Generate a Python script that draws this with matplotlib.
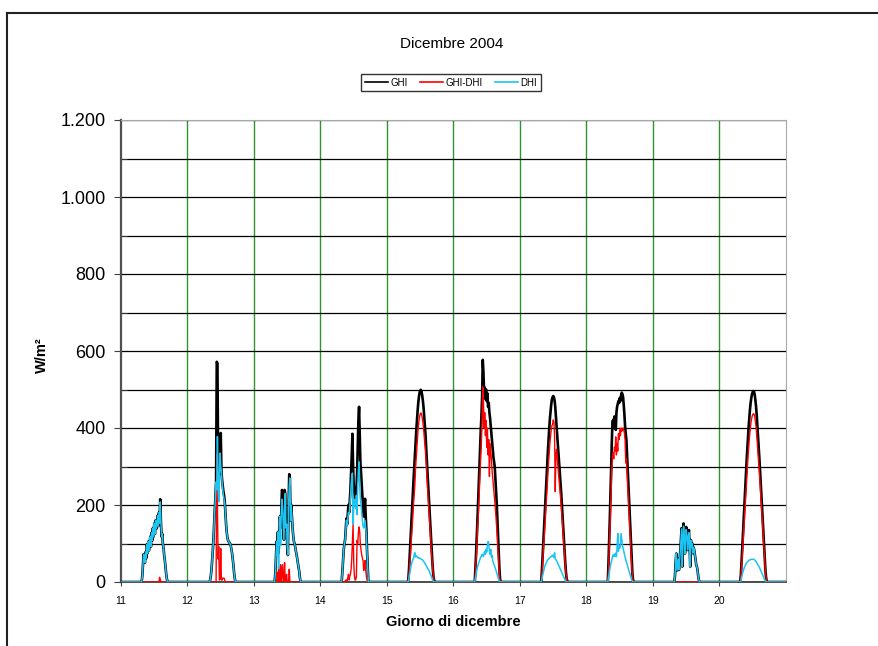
import numpy as np
import matplotlib.pyplot as plt
from matplotlib.lines import Line2D
from matplotlib.ticker import FuncFormatter, MultipleLocator

plt.rcParams['font.family'] = ['Liberation Sans', 'DejaVu Sans']

# sampling grid inside each day (fraction of the day)
day_offsets = [0.30, 0.31, 0.32, 0.33, 0.34, 0.35, 0.36, 0.37, 0.38, 0.39,
               0.40, 0.41, 0.42, 0.43, 0.44, 0.45, 0.46, 0.47, 0.48, 0.49,
               0.50, 0.51, 0.52, 0.53, 0.54, 0.55, 0.56, 0.57, 0.58, 0.59,
               0.60, 0.61, 0.62, 0.63, 0.64, 0.65, 0.66, 0.67, 0.68, 0.69,
               0.70, 0.71, 0.72]

days = [11, 12, 13, 14, 15, 16, 17, 18, 19, 20]
x_ticks = [11, 12, 13, 14, 15, 16, 17, 18, 19, 20]

ghi_11 = [0, 0, 15, 45, 72, 58, 50, 78, 62, 98, 75, 105, 82, 95, 118, 92, 128, 108, 140, 118, 152, 125, 160, 138, 150,
          172, 145, 180, 165, 215, 158, 118, 125, 98, 88, 68, 55, 38, 20, 8, 0, 0, 0]
dhi_11 = [0, 0, 15, 45, 72, 58, 50, 78, 62, 98, 75, 105, 82, 95, 118, 92, 128, 108, 140, 118, 152, 125, 160, 138, 150,
          172, 145, 180, 153, 208, 158, 118, 125, 98, 88, 68, 55, 38, 20, 8, 0, 0, 0]
dif_11 = [0, 0, 0, 0, 0, 0, 0, 0, 0, 0, 0, 0, 0, 0, 0, 0, 0, 0, 0, 0, 0, 0, 0, 0, 0,
          0, 0, 0, 12, 7, 0, 0, 0, 0, 0, 0, 0, 0, 0, 0, 0, 0, 0]

ghi_12 = [0, 0, 0, 0, 5, 15, 30, 55, 80, 110, 150, 187, 220, 260, 572, 568, 330, 300, 280, 345, 387, 290, 265, 250, 235,
          225, 210, 180, 150, 130, 115, 108, 105, 102, 100, 95, 85, 75, 60, 45, 25, 10, 0]
dhi_12 = [0, 0, 0, 0, 5, 15, 30, 55, 80, 110, 150, 187, 220, 260, 240, 378, 270, 208, 275, 335, 300, 285, 260, 240, 225,
          215, 205, 180, 150, 130, 115, 108, 105, 102, 100, 95, 85, 75, 60, 45, 25, 10, 0]
dif_12 = [0, 0, 0, 0, 0, 0, 0, 0, 0, 0, 0, 0, 0, 0, 332, 190, 60, 92, 5, 10, 87, 5, 5, 10, 10,
          10, 5, 0, 0, 0, 0, 0, 0, 0, 0, 0, 0, 0, 0, 0, 0, 0, 0]

ghi_13 = [0, 0, 20, 60, 105, 95, 130, 75, 120, 170, 140, 180, 239, 235, 150, 110, 239, 230, 140, 170, 90, 70, 200, 280, 270,
          160, 200, 170, 140, 120, 105, 100, 90, 80, 72, 60, 48, 38, 28, 12, 0, 0, 0]
dhi_13 = [0, 0, 20, 60, 105, 70, 130, 35, 120, 170, 95, 180, 215, 190, 150, 110, 189, 230, 140, 150, 90, 70, 200, 247, 270,
          160, 200, 170, 140, 120, 105, 100, 90, 80, 72, 60, 48, 38, 28, 12, 0, 0, 0]
dif_13 = [0, 0, 0, 0, 0, 25, 0, 40, 0, 0, 45, 0, 24, 45, 0, 0, 50, 0, 0, 20, 0, 0, 0, 33, 0,
          0, 0, 0, 0, 0, 0, 0, 0, 0, 0, 0, 0, 0, 0, 0, 0, 0, 0]

ghi_14 = [0, 0, 5, 30, 60, 85, 100, 110, 140, 165, 150, 175, 200, 180, 210, 240, 283, 330, 385, 300, 250, 231, 210, 196, 240,
          283, 350, 420, 455, 380, 310, 283, 250, 222, 200, 170, 190, 216, 170, 135, 80, 40, 0]
dhi_14 = [0, 0, 5, 30, 60, 85, 100, 108, 135, 160, 148, 165, 180, 175, 195, 220, 250, 270, 283, 150, 200, 215, 205, 190, 225,
          175, 250, 290, 312, 250, 215, 200, 180, 160, 145, 140, 150, 160, 140, 120, 75, 40, 0]
dif_14 = [0, 0, 0, 0, 0, 0, 0, 2, 5, 5, 2, 10, 20, 5, 15, 20, 33, 60, 102, 150, 50, 16, 5, 6, 15,
          108, 100, 130, 143, 130, 95, 83, 70, 62, 55, 30, 40, 56, 30, 15, 5, 0, 0]

ghi_15 = [0, 0, 5, 30, 62, 97, 132, 166, 200, 234, 268, 300, 332, 362, 392, 420, 444, 465, 481, 492, 498, 499, 494, 484, 470,
          452, 430, 405, 380, 345, 310, 280, 250, 218, 185, 152, 120, 88, 58, 32, 12, 2, 0]
dhi_15 = [0, 0, 0, 10, 20, 30, 40, 48, 54, 58, 62, 72, 76, 65, 68, 66, 64, 62, 63, 62, 61, 60, 59, 58, 56,
          54, 51, 48, 45, 42, 39, 36, 33, 30, 26, 22, 18, 13, 8, 4, 0, 0, 0]
dif_15 = [0, 0, 5, 20, 42, 67, 92, 118, 146, 176, 206, 228, 256, 297, 324, 354, 380, 403, 418, 430, 437, 439, 435, 426, 414,
          398, 379, 357, 335, 303, 271, 244, 217, 188, 159, 130, 102, 75, 50, 28, 12, 2, 0]

ghi_16 = [0, 0, 0, 35, 75, 115, 160, 205, 250, 300, 350, 395, 430, 480, 577, 545, 490, 505, 475, 500, 470, 490, 455, 465, 440,
          425, 405, 385, 365, 345, 325, 312, 300, 270, 240, 205, 165, 120, 75, 35, 8, 0, 0]
dhi_16 = [0, 0, 0, 10, 20, 30, 38, 45, 50, 55, 60, 65, 68, 72, 70, 66, 75, 80, 72, 85, 78, 95, 105, 100, 80,
          72, 85, 65, 70, 55, 50, 45, 40, 35, 30, 24, 18, 12, 6, 2, 0, 0, 0]
dif_16 = [0, 0, 0, 25, 55, 90, 125, 160, 200, 240, 285, 330, 365, 420, 507, 470, 400, 440, 380, 420, 350, 400, 330, 370, 274,
          360, 340, 320, 290, 270, 250, 230, 210, 190, 165, 140, 110, 78, 45, 18, 3, 0, 0]

ghi_17 = [0, 0, 0, 30, 65, 100, 135, 170, 205, 240, 275, 310, 342, 372, 400, 425, 445, 462, 474, 480, 483, 480, 472, 455, 430,
          405, 380, 355, 330, 305, 280, 255, 230, 200, 170, 140, 110, 80, 52, 28, 10, 2, 0]
dhi_17 = [0, 0, 0, 8, 16, 24, 32, 38, 44, 48, 52, 55, 58, 60, 62, 63, 65, 66, 68, 70, 66, 64, 76, 60, 58,
          55, 52, 48, 44, 40, 36, 32, 28, 24, 20, 16, 12, 8, 4, 1, 0, 0, 0]
dif_17 = [0, 0, 0, 22, 49, 76, 103, 132, 161, 192, 223, 255, 284, 312, 338, 362, 380, 396, 406, 410, 421, 416, 380, 235, 330,
          345, 322, 300, 280, 258, 240, 220, 198, 172, 146, 120, 96, 70, 46, 25, 8, 2, 0]

ghi_18 = [0, 0, 0, 45, 100, 160, 220, 290, 360, 415, 421, 400, 430, 410, 395, 440, 455, 462, 470, 465, 478, 470, 485, 492, 488,
          480, 460, 435, 405, 385, 369, 330, 290, 250, 210, 170, 130, 90, 55, 22, 5, 0, 0]
dhi_18 = [0, 0, 0, 10, 22, 32, 42, 50, 58, 65, 70, 66, 72, 68, 75, 66, 90, 126, 80, 95, 88, 100, 126, 110, 96,
          88, 80, 72, 65, 58, 52, 46, 40, 34, 28, 22, 16, 10, 5, 2, 0, 0, 0]
dif_18 = [0, 0, 0, 30, 75, 125, 175, 230, 290, 325, 335, 320, 350, 340, 377, 330, 360, 340, 385, 370, 395, 380, 400, 392, 395,
          400, 395, 387, 370, 309, 320, 280, 245, 210, 175, 140, 105, 72, 42, 15, 3, 0, 0]

ghi_19 = [0, 0, 0, 15, 50, 74, 30, 45, 60, 31, 55, 80, 110, 140, 40, 100, 152, 120, 74, 110, 143, 120, 83, 115, 135,
          95, 40, 109, 90, 100, 75, 90, 83, 70, 55, 45, 40, 31, 15, 5, 0, 0, 0]
dhi_19 = [0, 0, 0, 15, 50, 74, 30, 45, 60, 31, 55, 80, 110, 138, 40, 100, 145, 120, 74, 110, 136, 120, 83, 115, 128,
          95, 40, 109, 90, 100, 75, 90, 83, 70, 55, 45, 40, 31, 15, 5, 0, 0, 0]
dif_19 = [0, 0, 0, 0, 0, 0, 0, 0, 0, 0, 0, 0, 0, 0, 0, 0, 0, 0, 0, 0, 0, 0, 0, 0, 0,
          0, 0, 0, 0, 0, 0, 0, 0, 0, 0, 0, 0, 0, 0, 0, 0, 0, 0]

ghi_20 = [0, 0, 15, 45, 80, 115, 150, 185, 220, 255, 290, 322, 352, 382, 408, 432, 452, 468, 480, 489, 494, 496, 494, 486, 472,
          455, 432, 405, 378, 350, 320, 290, 258, 225, 192, 158, 125, 92, 60, 32, 12, 2, 0]
dhi_20 = [0, 0, 0, 10, 18, 25, 31, 36, 40, 44, 47, 50, 52, 54, 56, 57, 58, 58, 59, 59, 59, 59, 58, 57, 55,
          53, 50, 47, 44, 41, 38, 34, 30, 26, 22, 18, 14, 10, 6, 3, 1, 0, 0]
dif_20 = [0, 0, 15, 35, 62, 90, 119, 149, 180, 211, 243, 272, 300, 328, 352, 375, 394, 410, 421, 430, 435, 437, 436, 429, 417,
          402, 382, 358, 334, 309, 282, 256, 228, 199, 170, 140, 111, 82, 54, 29, 11, 2, 0]

ghi_days = [ghi_11, ghi_12, ghi_13, ghi_14, ghi_15, ghi_16, ghi_17, ghi_18, ghi_19, ghi_20]
dhi_days = [dhi_11, dhi_12, dhi_13, dhi_14, dhi_15, dhi_16, dhi_17, dhi_18, dhi_19, dhi_20]
dif_days = [dif_11, dif_12, dif_13, dif_14, dif_15, dif_16, dif_17, dif_18, dif_19, dif_20]


def build_series(per_day):
    # night hours are zero: add a point at each midnight
    xs, ys = [], []
    for d, vals in zip(days, per_day):
        xs.append(d)
        ys.append(0)
        xs.extend([d + o for o in day_offsets])
        ys.extend(vals)
    xs.append(days[-1] + 1)
    ys.append(0)
    return np.array(xs), np.array(ys)


W, H = 879, 646
fig = plt.figure(figsize=(W / 100, H / 100), dpi=100)
ax = fig.add_axes([121 / W, 1 - 582 / H, (786 - 121) / W, (582 - 120) / H])

x, ghi = build_series(ghi_days)
_, dif = build_series(dif_days)
_, dhi = build_series(dhi_days)

ax.plot(x, ghi, color='black', lw=1.9, zorder=3, label='GHI')
ax.plot(x, dif, color='#ff0000', lw=1.0, zorder=4, label='GHI-DHI')
ax.plot(x, dhi, color='#1cc4f2', lw=1.1, zorder=5, label='DHI')

ax.set_xlim(11, 21)
ax.set_ylim(0, 1200)
ax.set_xticks(x_ticks)
ax.yaxis.set_major_locator(MultipleLocator(200))
ax.yaxis.set_minor_locator(MultipleLocator(100))
ax.yaxis.set_major_formatter(FuncFormatter(lambda v, p: f"{int(v):,}".replace(",", ".")))

ax.grid(axis='y', which='both', color='black', lw=0.9, zorder=1)
for d in x_ticks[1:]:
    ax.axvline(d, color='#2f942f', lw=1.0, zorder=1)

ax.tick_params(axis='y', which='major', direction='out', length=5, labelsize=13, pad=6, color='#404040')
ax.tick_params(axis='y', which='minor', direction='in', length=4, color='#404040')
ax.tick_params(axis='x', direction='out', length=3, labelsize=7.5, pad=7, color='#404040')

ax.spines['left'].set_color('#505050')
ax.spines['left'].set_linewidth(1.6)
ax.spines['bottom'].set_color('#303030')
ax.spines['bottom'].set_linewidth(1.2)
ax.spines['top'].set_color('#a8a8a8')
ax.spines['right'].set_color('#a8a8a8')

fig.text(452 / W, 1 - 44 / H, 'Dicembre 2004', ha='center', va='center', fontsize=11)
fig.text(453 / W, 1 - 622 / H, 'Giorno di dicembre', ha='center', va='center', fontsize=10.5, fontweight='bold')
fig.text(42 / W, 1 - 355 / H, 'W/m²', ha='center', va='center', rotation=90, fontsize=10.5, fontweight='bold')

leg = fig.legend(loc='center', bbox_to_anchor=(451 / W, 1 - 82.5 / H), ncol=3, fontsize=7,
                 frameon=True, fancybox=False, edgecolor='black', handlelength=2.4,
                 handletextpad=0.2, columnspacing=1.3, borderpad=0.4)
leg.get_frame().set_linewidth(1.0)
for h in leg.get_lines():
    h.set_linewidth(1.2)

# outer chart-area border (cut at the right and bottom)
fig.add_artist(Line2D([7 / W, 1], [1 - 13 / H, 1 - 13 / H], transform=fig.transFigure, color='#222222', lw=1.5))
fig.add_artist(Line2D([7 / W, 7 / W], [0, 1 - 13 / H], transform=fig.transFigure, color='#222222', lw=1.5))

fig.savefig('out.png', dpi=100)
